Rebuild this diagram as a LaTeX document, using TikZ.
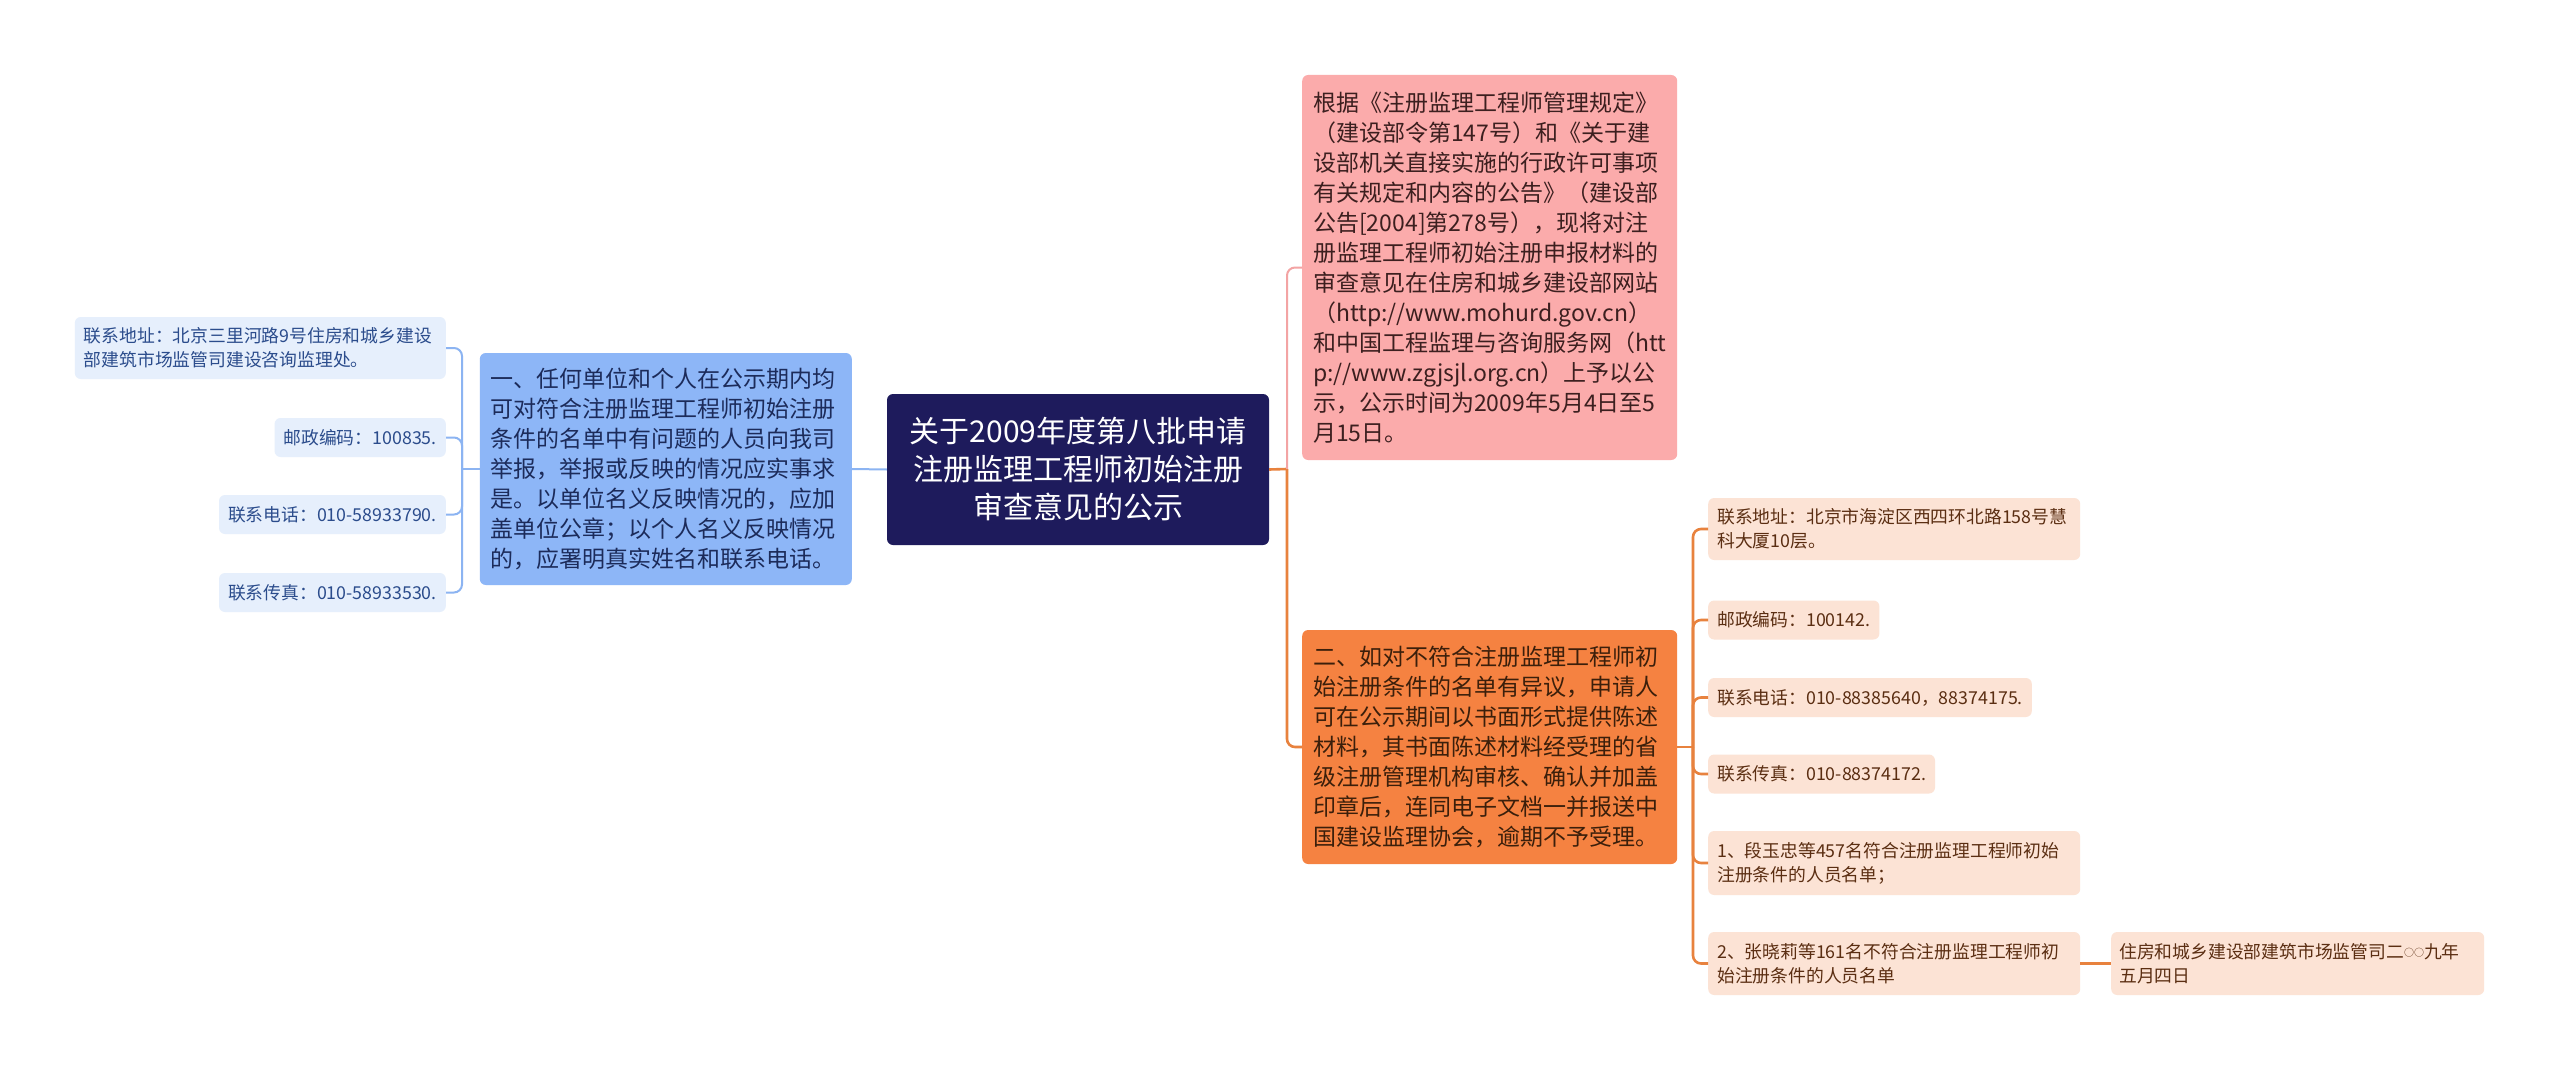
\documentclass[tikz,border=0pt]{standalone}
\usepackage{fontspec}
\setmainfont{Noto Sans CJK SC}
\definecolor{cfill}{HTML}{1E1B5C}
\definecolor{bfill}{HTML}{8DB6F7}
\definecolor{btext}{HTML}{1C2B5A}
\definecolor{lfill}{HTML}{E6EFFC}
\definecolor{ltext}{HTML}{2B4C8C}
\definecolor{pfill}{HTML}{FBABAB}
\definecolor{ptext}{HTML}{3C1F1F}
\definecolor{ofill}{HTML}{F58241}
\definecolor{otext}{HTML}{3B1F0B}
\definecolor{rfill}{HTML}{FCE3D5}
\definecolor{rtext}{HTML}{5B2E12}
\definecolor{bline}{HTML}{8CB4F2}
\definecolor{oline}{HTML}{E8823E}
\definecolor{pline}{HTML}{F3A4A4}
\tikzset{
  box/.style={rounded corners=6pt, inner ysep=0pt},
  centerbox/.style={box, fill=cfill, text=white, font=\fontsize{30}{38}\selectfont,
    text width=340pt, align=center, inner xsep=21pt, minimum height=151pt},
  bigbox/.style={box, font=\fontsize{23}{30}\selectfont, align=left, inner xsep=11pt,
    text width=353pt, minimum height=#1},
  smallbox/.style={box, font=\fontsize{17.8}{24}\selectfont, align=left, inner xsep=9pt,
    minimum height=#1},
  wide/.style={text width=#1},
  bconn/.style={draw=bline, line width=2pt, rounded corners=8pt},
  oconn/.style={draw=oline, line width=2.6pt, rounded corners=8pt},
  pconn/.style={draw=pline, line width=2pt, rounded corners=8pt}
}
\begin{document}
\begin{tikzpicture}[x=1pt,y=-1pt]
\fill[white] (0,0) rectangle (2560,1073);
\useasboundingbox (0,0) rectangle (2560,1073);

% center
\node[centerbox] (c) at (1078,469.5) {关于2009年度第八批申请\\注册监理工程师初始注册\\审查意见的公示};

% left main
\node[bigbox=232pt, fill=bfill, text=btext, text width=350pt, anchor=east] (b) at (852,469)
 {一、任何单位和个人在公示期内均\\可对符合注册监理工程师初始注册\\条件的名单中有问题的人员向我司\\举报，举报或反映的情况应实事求\\是。以单位名义反映情况的，应加\\盖单位公章；以个人名义反映情况\\的，应署明真实姓名和联系电话。};

% left children
\node[smallbox=62pt, fill=lfill, text=ltext, wide=353pt, anchor=east] (l1) at (446,348)
 {联系地址：北京三里河路9号住房和城乡建设\\部建筑市场监管司建设咨询监理处。};
\node[smallbox=39pt, fill=lfill, text=ltext, anchor=east] (l2) at (446,437.5) {邮政编码：100835.};
\node[smallbox=39pt, fill=lfill, text=ltext, anchor=east] (l3) at (446,514.5) {联系电话：010-58933790.};
\node[smallbox=39pt, fill=lfill, text=ltext, anchor=east] (l4) at (446,592.5) {联系传真：010-58933530.};

% right main
\node[bigbox=385pt, fill=pfill, text=ptext, anchor=west] (p) at (1302,267.5)
 {根据《注册监理工程师管理规定》\\（建设部令第147号）和《关于建\\设部机关直接实施的行政许可事项\\有关规定和内容的公告》（建设部\\公告[2004]第278号），现将对注\\册监理工程师初始注册申报材料的\\审查意见在住房和城乡建设部网站\\（http://www.mohurd.gov.cn）\\和中国工程监理与咨询服务网（htt\\p://www.zgjsjl.org.cn）上予以公\\示，公示时间为2009年5月4日至5\\月15日。};
\node[bigbox=234pt, fill=ofill, text=otext, anchor=west] (o) at (1302,747)
 {二、如对不符合注册监理工程师初\\始注册条件的名单有异议，申请人\\可在公示期间以书面形式提供陈述\\材料，其书面陈述材料经受理的省\\级注册管理机构审核、确认并加盖\\印章后，连同电子文档一并报送中\\国建设监理协会，逾期不予受理。};

% right children
\node[smallbox=62pt, fill=rfill, text=rtext, wide=354pt, anchor=west] (r1) at (1708,529)
 {联系地址：北京市海淀区西四环北路158号慧\\科大厦10层。};
\node[smallbox=39pt, fill=rfill, text=rtext, anchor=west] (r2) at (1708,620) {邮政编码：100142.};
\node[smallbox=39pt, fill=rfill, text=rtext, anchor=west] (r3) at (1708,697.5) {联系电话：010-88385640，88374175.};
\node[smallbox=39pt, fill=rfill, text=rtext, anchor=west] (r4) at (1708,774) {联系传真：010-88374172.};
\node[smallbox=64pt, fill=rfill, text=rtext, wide=354pt, anchor=west] (r5) at (1708,863)
 {1、段玉忠等457名符合注册监理工程师初始\\注册条件的人员名单；};
\node[smallbox=63pt, fill=rfill, text=rtext, wide=354pt, anchor=west] (r6) at (1708,963.5)
 {2、张晓莉等161名不符合注册监理工程师初\\始注册条件的人员名单};
\node[smallbox=63pt, fill=rfill, text=rtext, wide=357pt, inner xsep=8pt, anchor=west] (r7) at (2111,963.5)
 {住房和城乡建设部建筑市场监管司二{\fontsize{10}{24}\selectfont\raisebox{2pt}{○○}}九年\\五月四日};

% junctions
\coordinate (bj) at (462,469);
\coordinate (cj) at (1287,469);
\coordinate (oj) at (1693,747);

% connectors
\draw[bconn] (c.west) -- (b.east);
\draw[bconn] (b.west) -- (bj);
\foreach \n in {l1,l2,l3,l4} \draw[bconn] (bj) |- (\n.east);
\draw[oconn] (c.east) -- (cj);
\draw[pconn] (cj) |- (p.west);
\draw[oconn] (cj) |- (o.west);
\draw[oconn] (o.east) -- (oj);
\foreach \n in {r1,r2,r3,r4,r5,r6} \draw[oconn] (oj) |- (\n.west);
\draw[oconn] (r6.east) -- (r7.west);
\end{tikzpicture}
\end{document}
